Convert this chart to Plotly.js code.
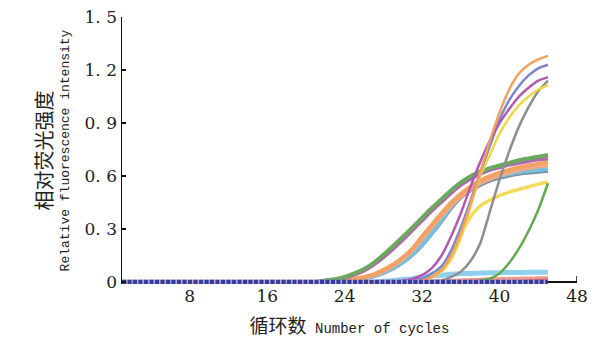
<!DOCTYPE html>
<html>
<head>
<meta charset="utf-8">
<script src="https://cdn.plot.ly/plotly-3.0.1.min.js"></script>
<style>html,body{margin:0;padding:0;background:#fff;}#chart{width:611px;height:344px;}</style>
</head>
<body>
<div id="chart"></div>
<script>
// Cycle numbers
const cycles = [1,2,3,4,5,6,7,8,9,10,11,12,13,14,15,16,17,18,19,20,21,22,23,24,25,26,27,28,29,30,31,32,33,34,35,36,37,38,39,40,41,42,43,44,45];

// Early-rising group (plateau ~0.63-0.72)
const greenA  = [0,0,0,0,0,0,0,0,0,0,0,0,0,0,0,0,0,0,0,0,0, 0.01,0.017,0.03,0.05,0.075,0.11,0.155,0.205,0.256,0.31,0.365,0.42,0.47,0.52,0.565,0.60,0.625,0.645,0.66,0.675,0.69,0.70,0.71,0.72];
const purpleA = [0,0,0,0,0,0,0,0,0,0,0,0,0,0,0,0,0,0,0,0,0, 0.008,0.014,0.025,0.043,0.066,0.10,0.142,0.19,0.24,0.295,0.35,0.405,0.455,0.505,0.55,0.585,0.612,0.635,0.65,0.665,0.675,0.685,0.695,0.70];
const orangeA = [0,0,0,0,0,0,0,0,0,0,0,0,0,0,0,0,0,0,0,0,0, 0.005,0.008,0.012,0.02,0.03,0.045,0.07,0.10,0.14,0.19,0.26,0.325,0.39,0.45,0.50,0.54,0.575,0.60,0.62,0.635,0.65,0.66,0.67,0.68];
const salmonA = [0,0,0,0,0,0,0,0,0,0,0,0,0,0,0,0,0,0,0,0,0, 0.004,0.007,0.011,0.018,0.027,0.04,0.063,0.092,0.13,0.18,0.245,0.31,0.375,0.435,0.485,0.525,0.56,0.585,0.605,0.62,0.635,0.645,0.655,0.66];
const cyanA   = [0,0,0,0,0,0,0,0,0,0,0,0,0,0,0,0,0,0,0,0,0, 0.004,0.006,0.01,0.015,0.022,0.035,0.055,0.08,0.115,0.16,0.215,0.28,0.35,0.43,0.49,0.53,0.56,0.585,0.60,0.612,0.622,0.63,0.635,0.64];
const greyA   = [0,0,0,0,0,0,0,0,0,0,0,0,0,0,0,0,0,0,0,0,0, 0.004,0.006,0.01,0.015,0.022,0.034,0.053,0.078,0.112,0.155,0.21,0.275,0.345,0.42,0.48,0.52,0.55,0.575,0.59,0.603,0.613,0.62,0.625,0.63];

// Late-rising group (plateau ~1.1-1.28)
const magentaB = [0,0,0,0,0,0,0,0,0,0,0,0,0,0,0,0,0,0,0,0,0,0,0,0,0,0,0,0,0, 0.01,0.02,0.04,0.08,0.15,0.26,0.39,0.54,0.68,0.80,0.90,0.98,1.05,1.10,1.14,1.16];
const blueB    = [0,0,0,0,0,0,0,0,0,0,0,0,0,0,0,0,0,0,0,0,0,0,0,0,0,0,0,0,0, 0.005,0.01,0.02,0.05,0.09,0.18,0.31,0.46,0.62,0.77,0.92,1.03,1.11,1.17,1.21,1.23];
const orangeB  = [0,0,0,0,0,0,0,0,0,0,0,0,0,0,0,0,0,0,0,0,0,0,0,0,0,0,0,0,0, 0.003,0.006,0.01,0.03,0.07,0.15,0.28,0.44,0.62,0.80,0.96,1.09,1.18,1.23,1.26,1.28];
const yellowB  = [0,0,0,0,0,0,0,0,0,0,0,0,0,0,0,0,0,0,0,0,0,0,0,0,0,0,0,0,0, 0.003,0.006,0.01,0.03,0.06,0.13,0.25,0.43,0.60,0.72,0.84,0.93,1.00,1.05,1.09,1.115];
const yellowLow= [0,0,0,0,0,0,0,0,0,0,0,0,0,0,0,0,0,0,0,0,0,0,0,0,0,0,0,0,0, 0.003,0.006,0.01,0.03,0.07,0.14,0.27,0.37,0.43,0.465,0.49,0.51,0.525,0.54,0.555,0.565];
const greyB    = [0,0,0,0,0,0,0,0,0,0,0,0,0,0,0,0,0,0,0,0,0,0,0,0,0,0,0,0,0, 0,0,0.003,0.006,0.01,0.03,0.06,0.12,0.22,0.40,0.58,0.74,0.88,0.99,1.08,1.14];
const greenLate= [0,0,0,0,0,0,0,0,0,0,0,0,0,0,0,0,0,0,0,0,0,0,0,0,0,0,0,0,0, 0,0,0,0,0,0,0,0,0.01,0.02,0.05,0.11,0.19,0.29,0.41,0.56];

// Baseline (negative) curves
const lightBlueBase = [0,0,0,0,0,0,0,0,0,0,0,0,0,0,0,0,0,0,0,0,0,0,0,0,0,0,0, 0.005,0.01,0.015,0.02,0.03,0.035,0.04,0.045,0.05,0.05,0.052,0.053,0.054,0.055,0.055,0.056,0.056,0.057];
const salmonBase    = [0,0,0,0,0,0,0,0,0,0,0,0,0,0,0,0,0,0,0,0,0,0,0,0,0,0,0,0,0,0, 0.003,0.005,0.007,0.009,0.011,0.013,0.015,0.017,0.019,0.021,0.022,0.023,0.024,0.025,0.025];
const redBase       = [0,0,0,0,0,0,0,0,0,0,0,0,0,0,0,0,0,0,0,0,0,0,0,0,0,0,0,0,0,0,0,0,0,0,0,0,0,0,0,0,0.005,0.008,0.01,0.012,0.012];
const navyBase      = [0,0,0,0,0,0,0,0,0,0,0,0,0,0,0,0,0,0,0,0,0,0,0,0,0,0,0,0,0,0,0,0,0,0,0,0,0,0,0,0,0,0,0,0,0];

// Axis ticks
const xTickVals = [8,16,24,32,40,48];
const xTickText = ['8','16','24','32','40','48'];
const yTickVals = [0,0.3,0.6,0.9,1.2,1.5];
const yTickText = ['0','0.\u20043','0.\u20046','0.\u20049','1.\u20042','1.\u20045'];

function ln(y, color, width, dash) {
  return {x: cycles, y: y, type: 'scatter', mode: 'lines', hoverinfo: 'skip',
          line: {color: color, width: width, shape: 'spline', smoothing: 0.6, dash: dash || 'solid'}};
}

const traces = [
  ln(lightBlueBase, '#8fd0ee', 5),
  ln(salmonBase, '#ef9a8e', 3),
  ln(redBase, '#e0607a', 2.5),
  ln(greyA, '#7a8f9a', 4),
  ln(cyanA, '#74c3e3', 4),
  ln(salmonA, '#f1a98a', 4),
  ln(orangeA, '#f4a262', 4),
  ln(purpleA, '#b167b0', 4),
  ln(greenA, '#6aaa5e', 4),
  ln(yellowLow, '#f3dc55', 3.5),
  ln(greyB, '#8e8e8e', 2.5),
  ln(yellowB, '#f2d64a', 2.5),
  ln(blueB, '#7b86cf', 2.5),
  ln(magentaB, '#b05ab0', 2.5),
  ln(orangeB, '#f5a05c', 2.5),
  ln(greenLate, '#66a84e', 2.5),
  ln(navyBase, '#c9a0c8', 5),
  ln(navyBase, '#2f3f9e', 5, '4px,1.5px')
];

const serif = 'DejaVu Serif';
const layout = {
  width: 611, height: 344,
  margin: {l: 122, r: 34, t: 17, b: 60},
  paper_bgcolor: '#ffffff', plot_bgcolor: '#ffffff',
  showlegend: false,
  font: {family: serif, color: '#222'},
  xaxis: {
    range: [1, 48], tickvals: xTickVals, ticktext: xTickText,
    showgrid: false, zeroline: false, showline: false, ticks: '',
    tickfont: {family: serif, size: 17, color: '#222'},
    title: {text: '<span style="font-family:Noto Sans CJK SC;font-size:19px">循环数</span> Number of cycles',
            font: {family: 'Liberation Mono', size: 14, color: '#222'}, standoff: 18}
  },
  yaxis: {
    range: [-0.01, 1.5], tickvals: yTickVals, ticktext: yTickText,
    showgrid: false, zeroline: true, zerolinecolor: '#111', zerolinewidth: 1.5,
    showline: true, linecolor: '#111', linewidth: 1.5,
    ticks: 'inside', ticklen: 4, tickwidth: 1.5, tickcolor: '#111',
    tickfont: {family: serif, size: 17, color: '#222'},
    title: {text: '<span style="font-family:Noto Sans CJK SC;font-size:20px">相对荧光强度</span><br>Relative fluorescence intensity',
            font: {family: 'Liberation Mono', size: 13, color: '#222'}, standoff: 12}
  },
  shapes: [
    {type: 'line', xref: 'x', yref: 'y', x0: 48, x1: 48, y0: 0, y1: 0.035, line: {color: '#111', width: 1.5}}
  ]
};

Plotly.newPlot('chart', traces, layout, {staticPlot: true, displayModeBar: false});
</script>
</body>
</html>
